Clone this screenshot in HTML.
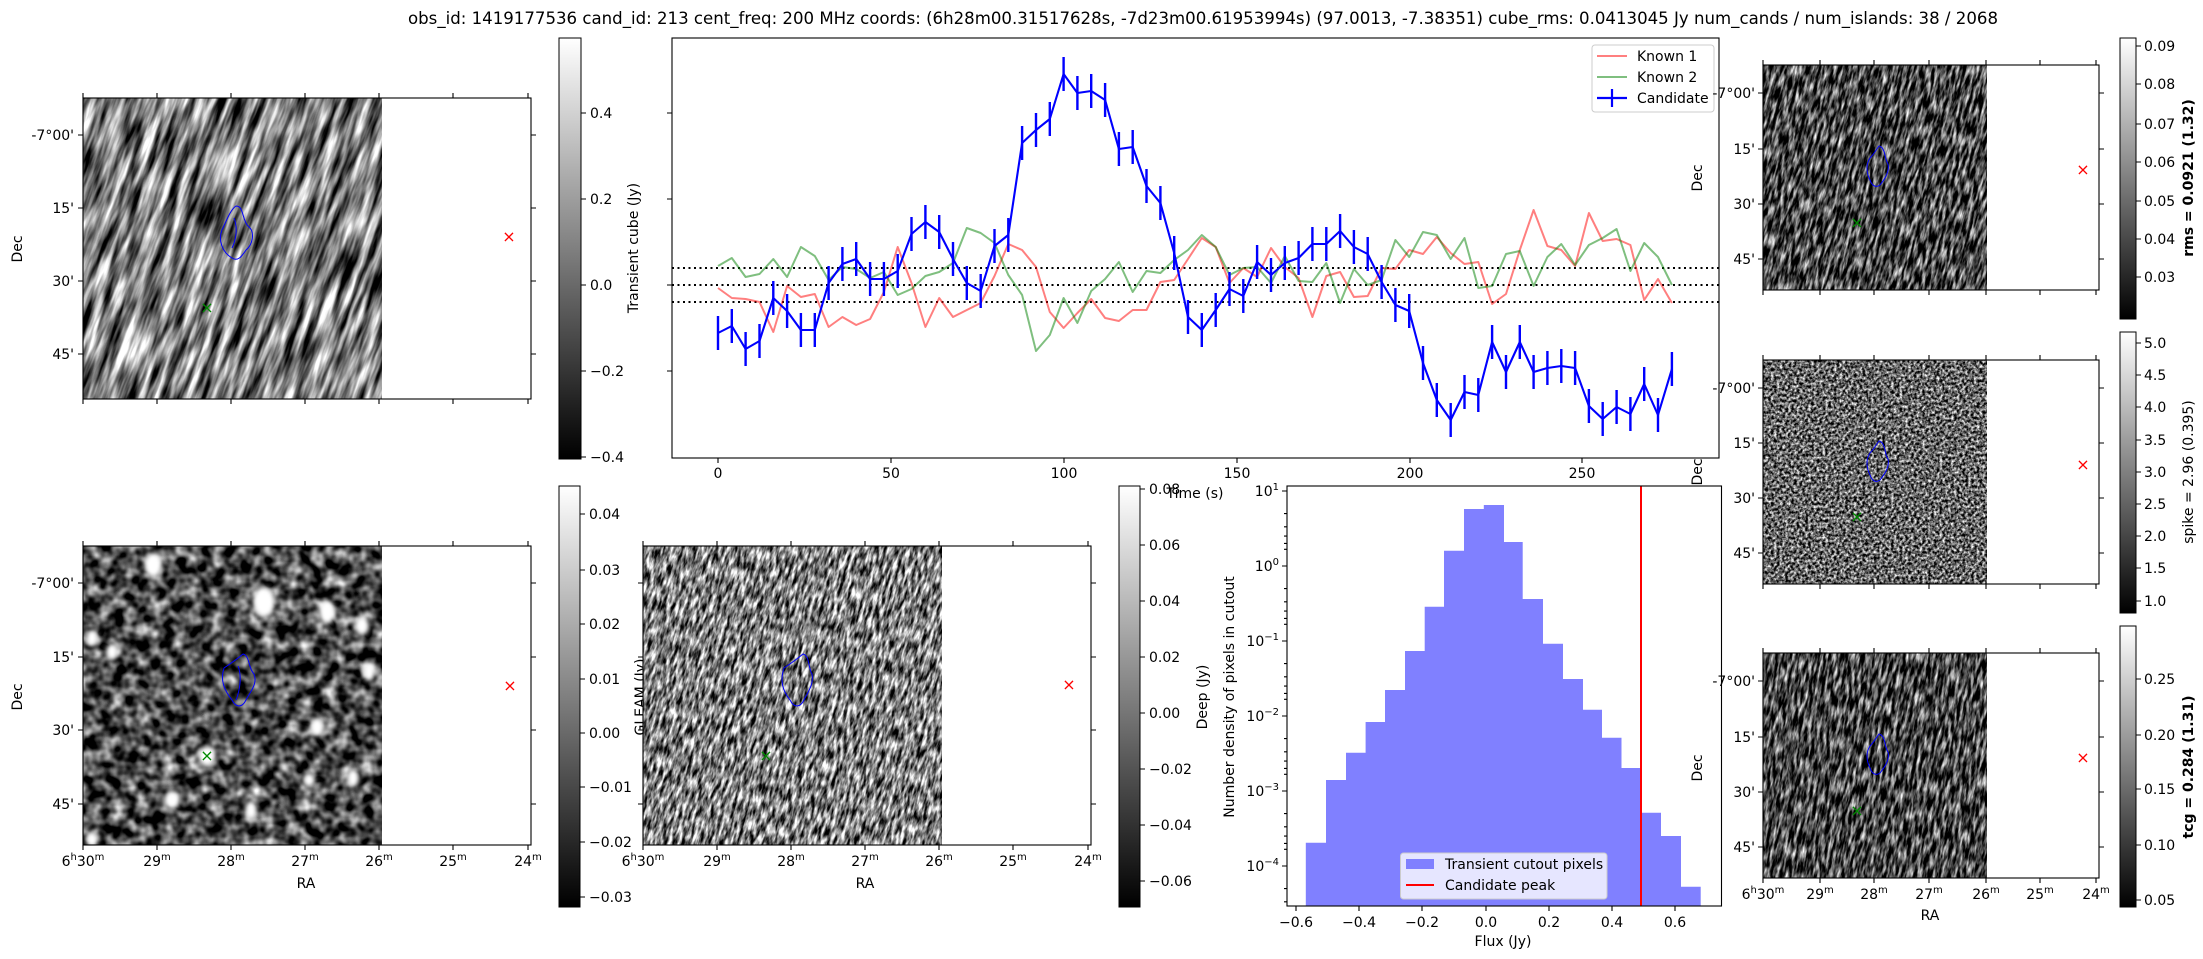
<!DOCTYPE html>
<html><head><meta charset="utf-8"><style>
html,body{margin:0;padding:0;background:#fff;}
svg{display:block;font-family:"DejaVu Sans","Liberation Sans",sans-serif;}
.t{font-size:14px;fill:#000;}
.ax{fill:none;stroke:#000;stroke-width:1.1;}
.tk{stroke:#000;stroke-width:1.1;fill:none;}
</style></head><body>
<svg width="2203" height="959" viewBox="0 0 2203 959" xmlns="http://www.w3.org/2000/svg">
<defs>
<linearGradient id="cb" x1="0" y1="0" x2="0" y2="1"><stop offset="0" stop-color="#fff"/><stop offset="1" stop-color="#000"/></linearGradient>
<filter id="fA" x="0" y="0" width="1" height="1" color-interpolation-filters="sRGB"><feTurbulence type="fractalNoise" baseFrequency="0.13 0.02" numOctaves="3" seed="3"/><feColorMatrix type="matrix" values="1 0 0 0 0 1 0 0 0 0 1 0 0 0 0 0 0 0 0 1"/><feComponentTransfer><feFuncR type="linear" slope="2" intercept="-0.5"/><feFuncG type="linear" slope="2" intercept="-0.5"/><feFuncB type="linear" slope="2" intercept="-0.5"/></feComponentTransfer></filter>
<filter id="fB" x="0" y="0" width="1" height="1" color-interpolation-filters="sRGB"><feTurbulence type="fractalNoise" baseFrequency="0.08" numOctaves="2" seed="7"/><feColorMatrix type="matrix" values="1 0 0 0 0 1 0 0 0 0 1 0 0 0 0 0 0 0 0 1"/><feComponentTransfer><feFuncR type="linear" slope="1.8" intercept="-0.6"/><feFuncG type="linear" slope="1.8" intercept="-0.6"/><feFuncB type="linear" slope="1.8" intercept="-0.6"/></feComponentTransfer></filter>
<filter id="fC" x="0" y="0" width="1" height="1" color-interpolation-filters="sRGB"><feTurbulence type="fractalNoise" baseFrequency="0.3 0.08" numOctaves="3" seed="11"/><feColorMatrix type="matrix" values="1 0 0 0 0 1 0 0 0 0 1 0 0 0 0 0 0 0 0 1"/><feComponentTransfer><feFuncR type="linear" slope="2.1" intercept="-0.55"/><feFuncG type="linear" slope="2.1" intercept="-0.55"/><feFuncB type="linear" slope="2.1" intercept="-0.55"/></feComponentTransfer></filter>
<filter id="fD" x="0" y="0" width="1" height="1" color-interpolation-filters="sRGB"><feTurbulence type="fractalNoise" baseFrequency="0.32 0.07" numOctaves="3" seed="5"/><feColorMatrix type="matrix" values="1 0 0 0 0 1 0 0 0 0 1 0 0 0 0 0 0 0 0 1"/><feComponentTransfer><feFuncR type="linear" slope="2" intercept="-0.72"/><feFuncG type="linear" slope="2" intercept="-0.72"/><feFuncB type="linear" slope="2" intercept="-0.72"/></feComponentTransfer></filter>
<filter id="fE" x="0" y="0" width="1" height="1" color-interpolation-filters="sRGB"><feTurbulence type="fractalNoise" baseFrequency="0.35" numOctaves="3" seed="9"/><feColorMatrix type="matrix" values="1 0 0 0 0 1 0 0 0 0 1 0 0 0 0 0 0 0 0 1"/><feComponentTransfer><feFuncR type="linear" slope="2" intercept="-0.6"/><feFuncG type="linear" slope="2" intercept="-0.6"/><feFuncB type="linear" slope="2" intercept="-0.6"/></feComponentTransfer></filter>
<filter id="blur"><feGaussianBlur stdDeviation="2.5"/></filter>
<clipPath id="cA"><rect x="83" y="98" width="299" height="301"/></clipPath>
<clipPath id="cB1"><rect x="83" y="546" width="299" height="299"/></clipPath>
<clipPath id="cB2"><rect x="643" y="546" width="299" height="299"/></clipPath>
<clipPath id="cR1"><rect x="1763" y="65" width="224" height="225"/></clipPath>
<clipPath id="cR2"><rect x="1763" y="360" width="224" height="224"/></clipPath>
<clipPath id="cR3"><rect x="1763" y="653" width="224" height="225"/></clipPath>
</defs>

<text x="1203" y="24" font-size="16.7" text-anchor="middle" textLength="1590" lengthAdjust="spacingAndGlyphs">obs_id: 1419177536 cand_id: 213 cent_freq: 200 MHz coords: (6h28m00.31517628s, -7d23m00.61953994s) (97.0013, -7.38351) cube_rms: 0.0413045 Jy num_cands / num_islands: 38 / 2068</text>

<!-- ============ A1 top-left image ============ -->
<g clip-path="url(#cA)"><rect x="83" y="98" width="299" height="301" fill="#7a7a7a"/>
<g transform="rotate(20 232 248)"><rect x="-50" y="-50" width="600" height="600" filter="url(#fA)"/></g></g>
<path d="M236 206 C244 206 242 220 248 226 C256 232 252 246 246 250 C242 256 238 262 232 258 C222 252 218 240 222 230 C226 222 230 210 236 206 Z M234 218 C238 228 236 240 232 248" fill="none" stroke="#00f" stroke-width="1"/>
<text x="509" y="242" font-size="16" fill="#f00" text-anchor="middle">×</text>
<text x="207" y="313" font-size="16" fill="#080" text-anchor="middle">×</text>
<rect class="ax" x="83" y="98" width="448" height="301"/>
<path class="tk" d="M83 399v5M157 399v5M231 399v5M305 399v5M379 399v5M453 399v5M528 399v5M83 98v-5M157 98v-5M231 98v-5M305 98v-5M379 98v-5M453 98v-5M528 98v-5M83 135h-5M83 208h-5M83 281h-5M83 354h-5M531 135h5M531 208h5M531 281h5M531 354h5"/>
<g class="t" text-anchor="end"><text x="74" y="140">-7°00'</text><text x="74" y="213">15'</text><text x="74" y="286">30'</text><text x="74" y="359">45'</text></g>
<text class="t" transform="translate(22 249) rotate(-90)" text-anchor="middle">Dec</text>

<!-- colorbar C1 -->
<rect x="559" y="38" width="22" height="421" fill="url(#cb)" stroke="#000" stroke-width="1"/>
<path class="tk" d="M581 113h5M581 199h5M581 285h5M581 371h5M581 457h5"/>
<g class="t"><text x="590" y="118">0.4</text><text x="590" y="204">0.2</text><text x="590" y="290">0.0</text><text x="590" y="376">−0.2</text><text x="590" y="462">−0.4</text></g>
<text class="t" transform="translate(638 248) rotate(-90)" text-anchor="middle">Transient cube (Jy)</text>

<!-- ============ Light curve ============ -->
<g fill="none" stroke-linejoin="round">
<path d="M672 268H1719M672 285H1719M672 302H1719" stroke="#000" stroke-width="2" stroke-dasharray="2 3.5"/>
<polyline stroke="#f00" stroke-opacity="0.5" stroke-width="2" points="718,288 731.8,298 745.6,299 759.5,302 773.3,332 787.1,286 800.9,297 814.8,294 828.6,327 842.4,317 856.2,325 870.1,319 883.9,292 897.7,247 911.5,283 925.4,327 939.2,298 953,317 966.8,310 980.7,303 994.5,276 1008.3,244 1022.1,250 1036,267 1049.8,312 1063.6,328 1077.4,313 1091.2,299 1105.1,318 1118.9,321 1132.7,310 1146.5,310 1160.4,282 1174.2,280 1188,259 1201.8,238 1215.7,247 1229.5,283 1243.3,268 1257.1,277 1271,248 1284.8,267 1298.6,278 1312.4,317 1326.3,276 1340.1,272 1353.9,297 1367.7,296 1381.6,268 1395.4,269 1409.2,250 1423,254 1436.8,237 1450.7,253 1464.5,264 1478.3,262 1492.1,304 1506,294 1519.8,250 1533.6,210 1547.4,246 1561.3,250 1575.1,266 1588.9,213 1602.7,241 1616.6,239 1630.4,245 1644.2,300 1658,279 1671.9,303"/>
<polyline stroke="#008000" stroke-opacity="0.5" stroke-width="2" points="718,266 731.8,258 745.6,277 759.5,274 773.3,259 787.1,277 800.9,247 814.8,256 828.6,280 842.4,267 856.2,269 870.1,278 883.9,272 897.7,295 911.5,289 925.4,276 939.2,272 953,263 966.8,228 980.7,233 994.5,243 1008.3,275 1022.1,295 1036,351 1049.8,335 1063.6,298 1077.4,323 1091.2,291 1105.1,279 1118.9,262 1132.7,292 1146.5,271 1160.4,273 1174.2,260 1188,250 1201.8,235 1215.7,247 1229.5,275 1243.3,268 1257.1,267 1271,283 1284.8,256 1298.6,281 1312.4,282 1326.3,263 1340.1,303 1353.9,269 1367.7,285 1381.6,280 1395.4,240 1409.2,257 1423,232 1436.8,235 1450.7,259 1464.5,238 1478.3,288 1492.1,286 1506,254 1519.8,251 1533.6,286 1547.4,257 1561.3,244 1575.1,265 1588.9,245 1602.7,238 1616.6,229 1630.4,271 1644.2,243 1658,257 1671.9,285"/>
<polyline stroke="#00f" stroke-width="2.1" points="718,333 731.8,326 745.6,349 759.5,341 773.3,298 787.1,311 800.9,330 814.8,330 828.6,283 842.4,264 856.2,259 870.1,279 883.9,279 897.7,271 911.5,234 925.4,222 939.2,232 953,259 966.8,283 980.7,291 994.5,246 1008.3,235 1022.1,143 1036,130 1049.8,119 1063.6,74 1077.4,93 1091.2,91 1105.1,100 1118.9,149 1132.7,147 1146.5,186 1160.4,203 1174.2,253 1188,317 1201.8,330 1215.7,310 1229.5,289 1243.3,296 1257.1,262 1271,275 1284.8,263 1298.6,258 1312.4,244 1326.3,244 1340.1,231 1353.9,247 1367.7,254 1381.6,282 1395.4,305 1409.2,311 1423,363 1436.8,400 1450.7,420 1464.5,392 1478.3,395 1492.1,342 1506,372 1519.8,342 1533.6,372 1547.4,368 1561.3,366 1575.1,368 1588.9,406 1602.7,419 1616.6,407 1630.4,414 1644.2,384 1658,415 1671.9,369"/>
<path stroke="#00f" stroke-width="2.4" d="M718 316V350M731.8 309V343M745.6 332V366M759.5 324V358M773.3 281V315M787.1 294V328M800.9 313V347M814.8 313V347M828.6 266V300M842.4 247V281M856.2 242V276M870.1 262V296M883.9 262V296M897.7 254V288M911.5 217V251M925.4 205V239M939.2 215V249M953 242V276M966.8 266V300M980.7 274V308M994.5 229V263M1008.3 218V252M1022.1 126V160M1036 113V147M1049.8 102V136M1063.6 57V91M1077.4 76V110M1091.2 74V108M1105.1 83V117M1118.9 132V166M1132.7 130V164M1146.5 169V203M1160.4 186V220M1174.2 236V270M1188 300V334M1201.8 313V347M1215.7 293V327M1229.5 272V306M1243.3 279V313M1257.1 245V279M1271 258V292M1284.8 246V280M1298.6 241V275M1312.4 227V261M1326.3 227V261M1340.1 214V248M1353.9 230V264M1367.7 237V271M1381.6 265V299M1395.4 288V322M1409.2 294V328M1423 346V380M1436.8 383V417M1450.7 403V437M1464.5 375V409M1478.3 378V412M1492.1 325V359M1506 355V389M1519.8 325V359M1533.6 355V389M1547.4 351V385M1561.3 349V383M1575.1 351V385M1588.9 389V423M1602.7 402V436M1616.6 390V424M1630.4 397V431M1644.2 367V401M1658 398V432M1671.9 352V386"/>
</g>
<rect class="ax" x="672" y="38" width="1047" height="420"/>
<path class="tk" d="M672 113h-5M672 199h-5M672 285h-5M672 371h-5M718 458v5M891 458v5M1064 458v5M1237 458v5M1410 458v5M1582 458v5"/>
<g class="t" text-anchor="middle"><text x="718" y="478">0</text><text x="891" y="478">50</text><text x="1064" y="478">100</text><text x="1237" y="478">150</text><text x="1410" y="478">200</text><text x="1582" y="478">250</text></g>
<!-- legend -->
<rect x="1592" y="45" width="122" height="67" rx="3" fill="#fff" fill-opacity="0.8" stroke="#ccc"/>
<path d="M1597 56h30" stroke="#f00" stroke-opacity="0.5" stroke-width="2"/>
<path d="M1597 77h30" stroke="#008000" stroke-opacity="0.5" stroke-width="2"/>
<path d="M1597 98h30M1612 89v18" stroke="#00f" stroke-width="2.2"/>
<g class="t"><text x="1637" y="61">Known 1</text><text x="1637" y="82">Known 2</text><text x="1637" y="103">Candidate</text></g>

<!-- ============ B1 ============ -->
<g clip-path="url(#cB1)"><rect x="83" y="546" width="299" height="299" filter="url(#fB)"/>
<g fill="#fff" filter="url(#blur)"><ellipse cx="153" cy="565" rx="9" ry="12"/><ellipse cx="264" cy="602" rx="11" ry="15"/><ellipse cx="327" cy="612" rx="8" ry="12"/><ellipse cx="362" cy="626" rx="7" ry="9"/><ellipse cx="92" cy="638" rx="6" ry="8"/><ellipse cx="112" cy="652" rx="6" ry="8"/><ellipse cx="369" cy="672" rx="6" ry="9"/><ellipse cx="317" cy="727" rx="7" ry="9"/><ellipse cx="207" cy="756" rx="9" ry="10"/><ellipse cx="172" cy="800" rx="8" ry="9"/><ellipse cx="251" cy="810" rx="6" ry="9"/><ellipse cx="353" cy="778" rx="6" ry="9"/><ellipse cx="309" cy="780" rx="6" ry="7"/><ellipse cx="92" cy="840" rx="6" ry="7"/></g></g>
<path d="M243 654 C250 656 248 668 254 674 C258 684 250 692 246 700 C242 708 236 708 232 700 C224 690 220 680 224 668 C230 664 236 660 243 654 Z M238 666 C242 676 240 690 236 700" fill="none" stroke="#00f" stroke-width="1"/>
<text x="510" y="691" font-size="16" fill="#f00" text-anchor="middle">×</text>
<text x="207" y="761" font-size="16" fill="#080" text-anchor="middle">×</text>
<rect class="ax" x="83" y="546" width="448" height="299"/>
<path class="tk" d="M83 845v5M157 845v5M231 845v5M305 845v5M379 845v5M453 845v5M528 845v5M83 546v-5M157 546v-5M231 546v-5M305 546v-5M379 546v-5M453 546v-5M528 546v-5M83 583h-5M83 657h-5M83 730h-5M83 804h-5M531 583h5M531 657h5M531 730h5M531 804h5"/>
<g class="t" text-anchor="end"><text x="74" y="588">-7°00'</text><text x="74" y="662">15'</text><text x="74" y="735">30'</text><text x="74" y="809">45'</text></g>
<g class="t" text-anchor="middle"><text x="83" y="866">6<tspan font-size="10" dy="-6">h</tspan><tspan dy="6">30</tspan><tspan font-size="10" dy="-6">m</tspan></text><text x="157" y="866">29<tspan font-size="10" dy="-6">m</tspan></text><text x="231" y="866">28<tspan font-size="10" dy="-6">m</tspan></text><text x="305" y="866">27<tspan font-size="10" dy="-6">m</tspan></text><text x="379" y="866">26<tspan font-size="10" dy="-6">m</tspan></text><text x="453" y="866">25<tspan font-size="10" dy="-6">m</tspan></text><text x="528" y="866">24<tspan font-size="10" dy="-6">m</tspan></text><text x="306" y="888">RA</text></g>
<text class="t" transform="translate(22 697) rotate(-90)" text-anchor="middle">Dec</text>
<rect x="559" y="486" width="21" height="421" fill="url(#cb)" stroke="#000" stroke-width="1"/>
<path class="tk" d="M580 514h5M580 570h5M580 624h5M580 679h5M580 733h5M580 787h5M580 842h5M580 897h5"/>
<g class="t"><text x="589" y="519">0.04</text><text x="589" y="575">0.03</text><text x="589" y="629">0.02</text><text x="589" y="684">0.01</text><text x="589" y="738">0.00</text><text x="589" y="792">−0.01</text><text x="589" y="847">−0.02</text><text x="589" y="902">−0.03</text></g>

<!-- ============ B2 ============ -->
<text class="t" transform="translate(645 697) rotate(-90)" text-anchor="middle">GLEAM (Jy)</text>
<g clip-path="url(#cB2)"><g transform="rotate(15 792 696)"><rect x="560" y="460" width="470" height="480" filter="url(#fC)"/></g></g>
<path d="M803 654 C810 656 808 668 812 674 C814 684 808 692 804 700 C800 708 794 708 790 700 C782 690 780 680 784 668 C790 664 796 660 803 654 Z" fill="none" stroke="#00f" stroke-width="1"/>
<text x="1069" y="690" font-size="16" fill="#f00" text-anchor="middle">×</text>
<text x="766" y="761" font-size="16" fill="#080" text-anchor="middle">×</text>
<rect class="ax" x="643" y="546" width="448" height="299"/>
<path class="tk" d="M643 845v5M717 845v5M791 845v5M865 845v5M939 845v5M1013 845v5M1088 845v5M643 546v-5M717 546v-5M791 546v-5M865 546v-5M939 546v-5M1013 546v-5M1088 546v-5M643 583h-5M643 657h-5M643 730h-5M643 804h-5M1091 583h5M1091 657h5M1091 730h5M1091 804h5"/>
<g class="t" text-anchor="middle"><text x="643" y="866">6<tspan font-size="10" dy="-6">h</tspan><tspan dy="6">30</tspan><tspan font-size="10" dy="-6">m</tspan></text><text x="717" y="866">29<tspan font-size="10" dy="-6">m</tspan></text><text x="791" y="866">28<tspan font-size="10" dy="-6">m</tspan></text><text x="865" y="866">27<tspan font-size="10" dy="-6">m</tspan></text><text x="939" y="866">26<tspan font-size="10" dy="-6">m</tspan></text><text x="1013" y="866">25<tspan font-size="10" dy="-6">m</tspan></text><text x="1088" y="866">24<tspan font-size="10" dy="-6">m</tspan></text><text x="865" y="888">RA</text></g>
<rect x="1119" y="486" width="21" height="421" fill="url(#cb)" stroke="#000" stroke-width="1"/>
<path class="tk" d="M1140 489h5M1140 545h5M1140 601h5M1140 657h5M1140 713h5M1140 769h5M1140 825h5M1140 881h5"/>
<g class="t"><text x="1149" y="494">0.08</text><text x="1149" y="550">0.06</text><text x="1149" y="606">0.04</text><text x="1149" y="662">0.02</text><text x="1149" y="718">0.00</text><text x="1149" y="774">−0.02</text><text x="1149" y="830">−0.04</text><text x="1149" y="886">−0.06</text></g>
<text class="t" transform="translate(1207 697) rotate(-90)" text-anchor="middle">Deep (Jy)</text>
<text class="t" x="1195" y="498" text-anchor="middle">Time (s)</text>

<!-- ============ Histogram ============ -->
<path d="M1305.8 906V842.7H1326V780H1346V752.7H1365.6V722H1385V690H1405V651H1424.7V606.7H1444V550.7H1464V509H1483.8V505H1504V542H1522.7V599H1543V643.7H1563V679H1583V709.7H1602V737.7H1621.5V768H1641V812.7H1661V836H1681V886.7H1700.7V906Z" fill="#8080ff"/>
<path d="M1641 486V906" stroke="#f00" stroke-width="2"/>
<rect x="1400.5" y="853" width="206.5" height="46" rx="3" fill="#fff" fill-opacity="0.8" stroke="#ccc"/>
<rect x="1406" y="859" width="28" height="10" fill="#8080ff"/>
<path d="M1406 885h28" stroke="#f00" stroke-width="2"/>
<g class="t"><text x="1445" y="869">Transient cutout pixels</text><text x="1445" y="890">Candidate peak</text></g>
<rect class="ax" x="1287" y="486" width="434.5" height="420"/>
<path class="tk" d="M1287 491h-5M1287 566h-5M1287 641h-5M1287 716h-5M1287 791h-5M1287 866h-5M1296 906v5M1359 906v5M1422 906v5M1486 906v5M1549 906v5M1612 906v5M1675 906v5"/>
<path class="tk" stroke-width="0.8" d="M1287 513.6h-3M1287 526.8h-3M1287 536.1h-3M1287 543.4h-3M1287 549.3h-3M1287 588.6h-3M1287 601.8h-3M1287 611.1h-3M1287 618.4h-3M1287 624.3h-3M1287 663.6h-3M1287 676.8h-3M1287 686.1h-3M1287 693.4h-3M1287 699.3h-3M1287 738.6h-3M1287 751.8h-3M1287 761.1h-3M1287 768.4h-3M1287 774.3h-3M1287 813.6h-3M1287 826.8h-3M1287 836.1h-3M1287 843.4h-3M1287 849.3h-3M1287 888.6h-3M1287 901.8h-3"/>
<g class="t" text-anchor="end"><text x="1279" y="496">10<tspan font-size="10" dy="-6">1</tspan></text><text x="1279" y="571">10<tspan font-size="10" dy="-6">0</tspan></text><text x="1279" y="646">10<tspan font-size="10" dy="-6">−1</tspan></text><text x="1279" y="721">10<tspan font-size="10" dy="-6">−2</tspan></text><text x="1279" y="796">10<tspan font-size="10" dy="-6">−3</tspan></text><text x="1279" y="871">10<tspan font-size="10" dy="-6">−4</tspan></text></g>
<g class="t" text-anchor="middle"><text x="1296" y="927">−0.6</text><text x="1359" y="927">−0.4</text><text x="1422" y="927">−0.2</text><text x="1486" y="927">0.0</text><text x="1549" y="927">0.2</text><text x="1612" y="927">0.4</text><text x="1675" y="927">0.6</text><text x="1503" y="946">Flux (Jy)</text></g>
<text class="t" transform="translate(1234 697) rotate(-90)" text-anchor="middle">Number density of pixels in cutout</text>

<!-- ============ Right column ============ -->
<!-- R1 -->
<g clip-path="url(#cR1)"><g transform="rotate(14 1875 178)"><rect x="1700" y="10" width="350" height="340" filter="url(#fD)"/></g></g>
<path d="M1879 146 C1886 148 1884 158 1888 164 C1890 172 1884 180 1880 185 C1876 188 1872 186 1870 180 C1866 172 1866 164 1870 158 C1874 154 1876 150 1879 146 Z" fill="none" stroke="#00f" stroke-width="1"/>
<text x="2083" y="175" font-size="16" fill="#f00" text-anchor="middle">×</text>
<text x="1857" y="228" font-size="16" fill="#080" text-anchor="middle">×</text>
<rect class="ax" x="1763" y="65" width="336" height="225"/>
<path class="tk" d="M1763 290v5M1820 290v5M1874 290v5M1929 290v5M1986 290v5M2040 290v5M2096 290v5M1763 65v-5M1820 65v-5M1874 65v-5M1929 65v-5M1986 65v-5M2040 65v-5M2096 65v-5M1763 93h-5M1763 149h-5M1763 204h-5M1763 259h-5M2099 93h5M2099 149h5M2099 204h5M2099 259h5"/>
<g class="t" text-anchor="end"><text x="1755" y="98">-7°00'</text><text x="1755" y="154">15'</text><text x="1755" y="209">30'</text><text x="1755" y="264">45'</text></g>
<text class="t" transform="translate(1702 178) rotate(-90)" text-anchor="middle">Dec</text>
<rect x="2120" y="38" width="16" height="281" fill="url(#cb)" stroke="#000" stroke-width="1"/>
<path class="tk" d="M2136 46h5M2136 84h5M2136 124h5M2136 162h5M2136 201h5M2136 239h5M2136 277h5"/>
<g class="t"><text x="2144" y="51">0.09</text><text x="2144" y="89">0.08</text><text x="2144" y="129">0.07</text><text x="2144" y="167">0.06</text><text x="2144" y="206">0.05</text><text x="2144" y="244">0.04</text><text x="2144" y="282">0.03</text></g>
<text class="t" font-weight="bold" transform="translate(2193 178) rotate(-90)" text-anchor="middle">rms = 0.0921 (1.32)</text>

<!-- R2 -->
<g clip-path="url(#cR2)"><rect x="1763" y="360" width="224" height="224" filter="url(#fE)"/></g>
<path d="M1879 441 C1886 443 1884 453 1888 459 C1890 467 1884 475 1880 480 C1876 483 1872 481 1870 475 C1866 467 1866 459 1870 453 C1874 449 1876 445 1879 441 Z" fill="none" stroke="#00f" stroke-width="1"/>
<text x="2083" y="470" font-size="16" fill="#f00" text-anchor="middle">×</text>
<text x="1857" y="522" font-size="16" fill="#080" text-anchor="middle">×</text>
<rect class="ax" x="1763" y="360" width="336" height="224"/>
<path class="tk" d="M1763 584v5M1820 584v5M1874 584v5M1929 584v5M1986 584v5M2040 584v5M2096 584v5M1763 360v-5M1820 360v-5M1874 360v-5M1929 360v-5M1986 360v-5M2040 360v-5M2096 360v-5M1763 388h-5M1763 443h-5M1763 498h-5M1763 553h-5M2099 388h5M2099 443h5M2099 498h5M2099 553h5"/>
<g class="t" text-anchor="end"><text x="1755" y="393">-7°00'</text><text x="1755" y="448">15'</text><text x="1755" y="503">30'</text><text x="1755" y="558">45'</text></g>
<text class="t" transform="translate(1702 472) rotate(-90)" text-anchor="middle">Dec</text>
<rect x="2120" y="332" width="16" height="281" fill="url(#cb)" stroke="#000" stroke-width="1"/>
<path class="tk" d="M2136 343h5M2136 375h5M2136 407h5M2136 440h5M2136 472h5M2136 504h5M2136 536h5M2136 568h5M2136 601h5"/>
<g class="t"><text x="2144" y="348">5.0</text><text x="2144" y="380">4.5</text><text x="2144" y="412">4.0</text><text x="2144" y="445">3.5</text><text x="2144" y="477">3.0</text><text x="2144" y="509">2.5</text><text x="2144" y="541">2.0</text><text x="2144" y="573">1.5</text><text x="2144" y="606">1.0</text></g>
<text class="t" transform="translate(2193 472) rotate(-90)" text-anchor="middle">spike = 2.96 (0.395)</text>

<!-- R3 -->
<g clip-path="url(#cR3)"><g transform="rotate(10 1875 765)"><rect x="1700" y="600" width="350" height="340" filter="url(#fD)"/></g></g>
<path d="M1879 734 C1886 736 1884 746 1888 752 C1890 760 1884 768 1880 773 C1876 776 1872 774 1870 768 C1866 760 1866 752 1870 746 C1874 742 1876 738 1879 734 Z" fill="none" stroke="#00f" stroke-width="1"/>
<text x="2083" y="763" font-size="16" fill="#f00" text-anchor="middle">×</text>
<text x="1857" y="816" font-size="16" fill="#080" text-anchor="middle">×</text>
<rect class="ax" x="1763" y="653" width="336" height="225"/>
<path class="tk" d="M1763 878v5M1820 878v5M1874 878v5M1929 878v5M1986 878v5M2040 878v5M2096 878v5M1763 653v-5M1820 653v-5M1874 653v-5M1929 653v-5M1986 653v-5M2040 653v-5M2096 653v-5M1763 681h-5M1763 737h-5M1763 792h-5M1763 847h-5M2099 681h5M2099 737h5M2099 792h5M2099 847h5"/>
<g class="t" text-anchor="end"><text x="1755" y="686">-7°00'</text><text x="1755" y="742">15'</text><text x="1755" y="797">30'</text><text x="1755" y="852">45'</text></g>
<g class="t" text-anchor="middle"><text x="1763" y="899">6<tspan font-size="10" dy="-6">h</tspan><tspan dy="6">30</tspan><tspan font-size="10" dy="-6">m</tspan></text><text x="1820" y="899">29<tspan font-size="10" dy="-6">m</tspan></text><text x="1874" y="899">28<tspan font-size="10" dy="-6">m</tspan></text><text x="1929" y="899">27<tspan font-size="10" dy="-6">m</tspan></text><text x="1986" y="899">26<tspan font-size="10" dy="-6">m</tspan></text><text x="2040" y="899">25<tspan font-size="10" dy="-6">m</tspan></text><text x="2096" y="899">24<tspan font-size="10" dy="-6">m</tspan></text><text x="1930" y="920">RA</text></g>
<text class="t" transform="translate(1702 768) rotate(-90)" text-anchor="middle">Dec</text>
<rect x="2120" y="626" width="16" height="281" fill="url(#cb)" stroke="#000" stroke-width="1"/>
<path class="tk" d="M2136 679h5M2136 735h5M2136 789h5M2136 845h5M2136 900h5"/>
<g class="t"><text x="2144" y="684">0.25</text><text x="2144" y="740">0.20</text><text x="2144" y="794">0.15</text><text x="2144" y="850">0.10</text><text x="2144" y="905">0.05</text></g>
<text class="t" font-weight="bold" transform="translate(2193 767) rotate(-90)" text-anchor="middle">tcg = 0.284 (1.31)</text>
</svg>
</body></html>
